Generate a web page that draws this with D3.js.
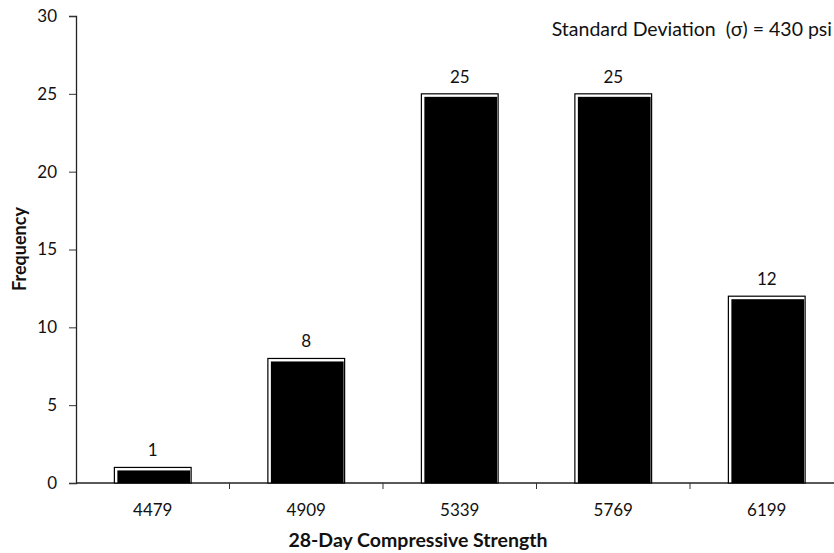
<!DOCTYPE html>
<html>
<head>
<meta charset="utf-8">
<script src="https://cdn.jsdelivr.net/npm/d3@7"></script>
<style>
  body { margin: 0; background: #fff; }
  text { font-family: Lato, "Open Sans", sans-serif; fill: #111; }
</style>
</head>
<body>
<div class="container"></div>
<script>
// histogram of 28-day strengths
const categories = ['4479', '4909', '5339', '5769', '6199']
const frequency = [1, 8, 25, 25, 12]
const yTicks = [0, 5, 10, 15, 20, 25, 30]

const width = 834, height = 553
const svg = d3.select('.container').append('svg')
    .attr('width', width).attr('height', height)

const plotLeft = 76, plotRight = 843.5, plotTop = 16, plotBottom = 483

const x = d3.scaleBand().domain(categories).range([plotLeft, plotRight]).paddingInner(0.5).paddingOuter(0.25)
const y = d3.scaleLinear().domain([0, 30]).range([plotBottom, plotTop])

// y axis
const yAxis = svg.append('g')
    .attr('transform', `translate(${plotLeft},0)`)
    .call(d3.axisLeft(y).tickValues(yTicks).tickSize(7).tickPadding(12))
yAxis.select('.domain').attr('stroke', '#222').attr('stroke-width', 1.3)
yAxis.selectAll('.tick line').attr('stroke', '#333')
yAxis.selectAll('text').style('font-size', '17px').style('font-family', 'Lato, sans-serif').attr('fill', '#111')

// x axis - ticks sit between categories
svg.append('line')
    .attr('x1', plotLeft).attr('x2', width).attr('y1', plotBottom).attr('y2', plotBottom)
    .attr('stroke', '#222').attr('stroke-width', 1.3)

const step = x.step()
const boundaries = d3.range(1, categories.length).map(i => x(categories[i]) - step * x.paddingInner() / 2)
svg.append('g').selectAll('line')
    .data(boundaries)
    .enter().append('line')
        .attr('x1', d => d).attr('x2', d => d)
        .attr('y1', plotBottom).attr('y2', plotBottom + 6)
        .attr('stroke', '#333')

svg.append('g').selectAll('text')
    .data(categories)
    .enter().append('text')
        .attr('x', d => x(d) + x.bandwidth() / 2)
        .attr('y', 516)
        .attr('text-anchor', 'middle')
        .style('font-size', '17px')
        .text(d => d)

// bars: black with a thin white inner border
const bars = svg.append('g').selectAll('g')
    .data(categories.map((c, i) => ({ c, v: frequency[i] })))
    .enter().append('g')

bars.append('rect')
    .attr('x', d => x(d.c))
    .attr('y', d => y(d.v))
    .attr('width', x.bandwidth())
    .attr('height', d => plotBottom - y(d.v))
    .attr('fill', '#fff')
    .attr('stroke', '#000')
    .attr('stroke-width', 1.2)

bars.append('rect')
    .attr('x', d => x(d.c) + 3)
    .attr('y', d => y(d.v) + 3)
    .attr('width', x.bandwidth() - 4)
    .attr('height', d => plotBottom - y(d.v) - 3)
    .attr('fill', '#000')

bars.append('text')
    .attr('x', d => x(d.c) + x.bandwidth() / 2)
    .attr('y', d => y(d.v) - 11)
    .attr('text-anchor', 'middle')
    .style('font-size', '17px')
    .text(d => d.v)

// axis titles
svg.append('text')
    .attr('transform', 'translate(26,249) rotate(-90)')
    .attr('text-anchor', 'middle')
    .style('font-size', '18px').style('font-weight', 'bold')
    .text('Frequency')

svg.append('text')
    .attr('x', 418).attr('y', 547)
    .attr('text-anchor', 'middle')
    .style('font-size', '19.5px').style('font-weight', 'bold')
    .text('28-Day Compressive Strength')

svg.append('text')
    .attr('x', 832).attr('y', 36)
    .attr('text-anchor', 'end')
    .style('font-size', '19.5px').style('white-space', 'pre')
    .text('Standard Deviation  (σ) = 430 psi')
</script>
</body>
</html>
